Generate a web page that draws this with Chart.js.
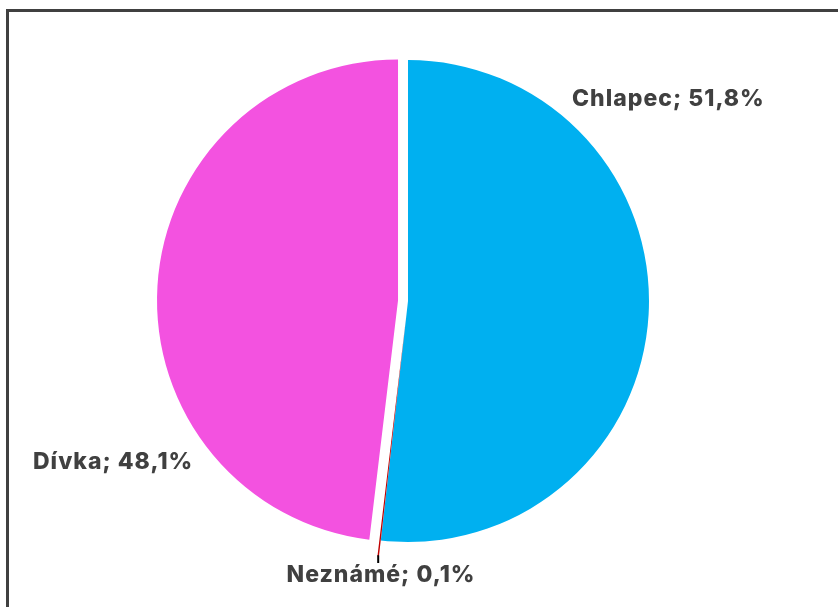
<!DOCTYPE html>
<html>
<head>
<meta charset="utf-8">
<script src="https://cdn.jsdelivr.net/npm/chart.js@4"></script>
<style>
  html, body { margin: 0; padding: 0; background: #fff; }
  #wrap { position: relative; width: 838px; height: 607px; overflow: hidden; }
  #frame { position: absolute; left: 6px; top: 9px; width: 900px; height: 700px;
           border-left: 3px solid #404040; border-top: 3px solid #404040; }
  canvas { position: absolute; left: 0; top: 0; }
</style>
</head>
<body>
<div id="wrap">
  <div id="frame"></div>
  <canvas id="pie" width="838" height="607"></canvas>
</div>
<script>
// data (percent)
const categories = ['Chlapec', 'Neznámé', 'Dívka'];
const shares = [51.8, 0.1, 48.1];
const sliceColors = ['#00B0F0', '#C00000', '#F352E0'];
// how far each slice is pulled out of the pie, px
const sliceExplode = [0, 16, 10];

// label placement relative to the pie centre
const labelOffsets = [
    { dx: 164, dy: -202, align: 'left' },
    { dx: -27, dy: 274, align: 'center' },
    { dx: -375, dy: 161, align: 'left' }
];

const labelFont = '800 23px Inter, "DejaVu Sans", sans-serif';
const labelColor = '#404040';

function formatShare(v) {
    return v.toFixed(1).replace('.', ',') + '%';
}

// pull slices out without changing their radius (built-in offset also grows the arc)
const explodeSlices = {
    id: 'explodeSlices',
    afterDatasetsUpdate(chart) {
        const arcs = chart.getDatasetMeta(0).data;
        arcs.forEach((arc, i) => {
            const mid = (arc.startAngle + arc.endAngle) / 2;
            arc.cx = arc.x;
            arc.cy = arc.y;
            arc.x += Math.cos(mid) * sliceExplode[i];
            arc.y += Math.sin(mid) * sliceExplode[i];
        });
    }
};

// draws "Category; xx,x%" labels and the leader line for the tiny slice
const pieLabels = {
    id: 'pieLabels',
    afterDatasetsDraw(chart) {
        const ctx = chart.ctx;
        const arcs = chart.getDatasetMeta(0).data;
        ctx.save();
        ctx.font = labelFont;
        ctx.letterSpacing = '1px';
        ctx.fillStyle = labelColor;
        ctx.textBaseline = 'middle';
        arcs.forEach((arc, i) => {
            const pos = labelOffsets[i];
            ctx.textAlign = pos.align;
            ctx.fillText(categories[i] + '; ' + formatShare(shares[i]), arc.cx + pos.dx, arc.cy + pos.dy);
        });

        // leader line for Neznámé
        const small = arcs[1];
        const mid = (small.startAngle + small.endAngle) / 2;
        const ex = small.x + Math.cos(mid) * small.outerRadius;
        const ey = small.y + Math.sin(mid) * small.outerRadius;
        ctx.strokeStyle = '#000';
        ctx.lineWidth = 2;
        ctx.beginPath();
        ctx.moveTo(ex, ey - 1);
        ctx.lineTo(ex, small.cy + labelOffsets[1].dy - 12);
        ctx.stroke();
        ctx.restore();
    }
};

new Chart(document.getElementById('pie'), {
    type: 'pie',
    data: {
        labels: categories,
        datasets: [{
            data: shares,
            backgroundColor: sliceColors,
            borderWidth: 0
        }]
    },
    options: {
        responsive: false,
        animation: false,
        radius: 241,
        layout: { padding: { left: 0, right: 22, top: 0, bottom: 5 } },
        plugins: {
            legend: { display: false },
            tooltip: { enabled: false }
        }
    },
    plugins: [explodeSlices, pieLabels]
});
</script>
</body>
</html>
